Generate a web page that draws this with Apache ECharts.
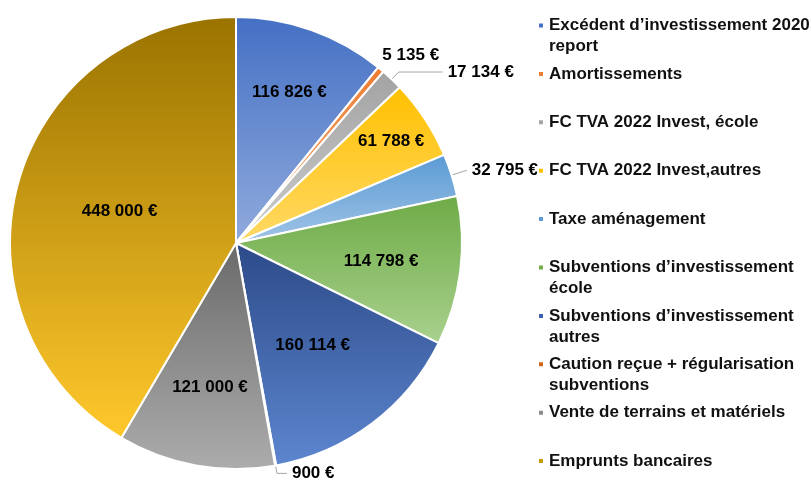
<!DOCTYPE html>
<html>
<head>
<meta charset="utf-8">
<script src="https://cdn.jsdelivr.net/npm/echarts@6/dist/echarts.min.js"></script>
<style>
  html, body { margin: 0; padding: 0; background: #fff; }
  #chart { width: 810px; height: 482px; }
</style>
</head>
<body>
<div id="chart"></div>
<script>
var names = [
  'Excédent d’investissement 2020\nreport',
  'Amortissements',
  'FC TVA 2022 Invest, école',
  'FC TVA 2022 Invest,autres',
  'Taxe aménagement',
  'Subventions d’investissement\nécole',
  'Subventions d’investissement\nautres',
  'Caution reçue + régularisation\nsubventions',
  'Vente de terrains et matériels',
  'Emprunts bancaires'
];
var values = [116826, 5135, 17134, 61788, 32795, 114798, 160114, 900, 121000, 448000];

// slice colours (top of gradient, bottom of gradient, legend marker)
var topColors = ['#4470c4', '#ed7d31', '#a3a3a3', '#ffc000', '#5b9bd5', '#6eab46', '#2c4a88', '#9e480e', '#6a6a6a', '#9a7300'];
var bottomColors = ['#90aadc', '#f4b183', '#cccccc', '#ffd966', '#a0c4e6', '#a9d18e', '#5d86cf', '#c55a11', '#acacac', '#ffc82c'];
var legendColors = ['#4472c4', '#ed7d31', '#a5a5a5', '#ffc000', '#5b9bd5', '#70ad47', '#3b62ad', '#d0661e', '#8c8c8c', '#c89c00'];

// inside labels: distance from centre as a share of the radius; null = outside label
var labelRatio = [0.69, null, null, 0.80, null, 0.63, 0.55, null, 0.63, 0.52];
// outside labels: leader line lengths
var lineLen = [null, 18, 10, null, 16, null, null, 8, null, null];
var lineLen2 = [null, -15, 44, null, 0, null, null, 10, null, null];
var lineShow = [false, false, true, false, true, false, false, true, false, false];

var CX = 236, CY = 243, R = 226;

function euro(v) {
  return String(v).replace(/\B(?=(\d{3})+(?!\d))/g, ' ') + ' €';
}

var data = values.map(function(v, i) {
  var item = {
    name: names[i],
    value: v,
    itemStyle: {
      color: new echarts.graphic.LinearGradient(0, 0, 0, 1, [
        { offset: 0, color: topColors[i] },
        { offset: 1, color: bottomColors[i] }
      ])
    }
  };
  if (labelRatio[i] == null) {
    item.label = { position: 'outside' };
    item.labelLine = { show: lineShow[i], length: lineLen[i], length2: lineLen2[i] };
  } else {
    item.label = { position: 'inside' };
    item.labelLine = { show: false };
  }
  return item;
});

var chart = echarts.init(document.getElementById('chart'), null, { renderer: 'canvas' });
chart.setOption({
  animation: false,
  backgroundColor: '#fff',
  legend: {
    orient: 'vertical',
    left: 537,
    top: -6,
    height: 600,
    padding: 0,
    itemGap: -14.6,
    itemWidth: 6,
    itemHeight: 6,
    icon: 'rect',
    selectedMode: false,
    data: names.map(function(n, i) {
      return { name: n, itemStyle: { color: legendColors[i] } };
    }),
    formatter: function(name) {
      // blank first line so the marker sits on the first text line
      var lines = name.split('\n');
      return ' \n' + lines[0] + '\n' + (lines[1] || ' ');
    },
    textStyle: {
      fontFamily: 'Liberation Sans, Arial, sans-serif',
      fontSize: 17,
      fontWeight: 'bold',
      color: '#111',
      lineHeight: 21
    }
  },
  series: [{
    type: 'pie',
    center: [CX, CY],
    radius: [0, R],
    startAngle: 90,
    clockwise: true,
    avoidLabelOverlap: false,
    data: data,
    itemStyle: { borderColor: '#fff', borderWidth: 2 },
    label: {
      show: true,
      color: '#000',
      fontFamily: 'Liberation Sans, Arial, sans-serif',
      fontSize: 17,
      fontWeight: 'bold',
      formatter: function(p) { return euro(p.value); }
    },
    labelLine: { lineStyle: { color: '#a6a6a6', width: 1 }, smooth: false },
    labelLayout: function(p) {
      var k = labelRatio[p.dataIndex];
      if (k == null) return {};
      var lx = p.labelRect.x + p.labelRect.width / 2;
      var ly = p.labelRect.y + p.labelRect.height / 2;
      var f = k / 0.5 - 1;
      return { dx: (lx - CX) * f, dy: (ly - CY) * f };
    }
  }]
});
</script>
</body>
</html>
